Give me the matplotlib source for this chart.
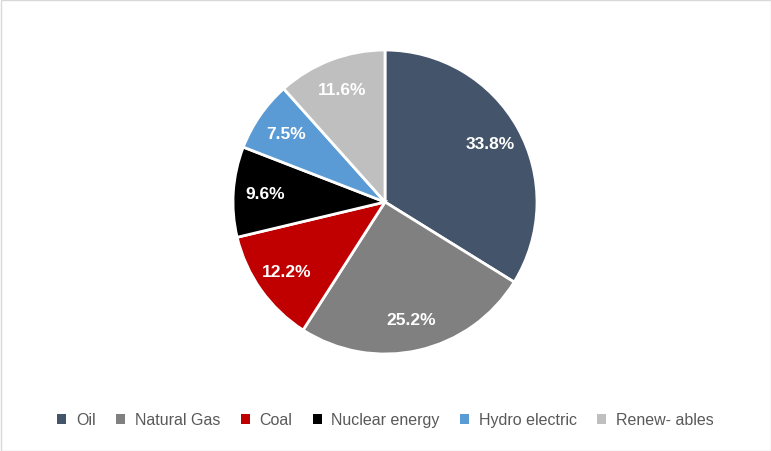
import matplotlib
matplotlib.use("Agg")
import matplotlib.pyplot as plt
from matplotlib.patches import Rectangle

categories = ["Oil", "Natural Gas", "Coal", "Nuclear energy", "Hydro electric", "Renew- ables"]
values = [33.8, 25.2, 12.2, 9.6, 7.5, 11.6]
colors = ["#44546A", "#808080", "#C00000", "#000000", "#5B9BD5", "#BFBFBF"]

plt.rcParams['font.family'] = ['Liberation Sans', 'DejaVu Sans']

W, H = 771, 452
fig = plt.figure(figsize=(W/100, H/100), dpi=100)
fig.patch.set_facecolor("white")

cx, cy, r = 385, 203, 152
ax = fig.add_axes([(cx - r)/W, 1 - (cy + r)/H, 2*r/W, 2*r/H])
total = sum(values)
wedges, texts, autotexts = ax.pie(
    values, colors=colors, startangle=90, counterclock=False,
    autopct=lambda p: f"{p*total/100:.1f}%", pctdistance=0.79,
    wedgeprops=dict(edgecolor="white", linewidth=2),
    textprops=dict(color="white", fontsize=12.5, fontweight="bold"))
ax.set_xlim(-1.0, 1.0)
ax.set_ylim(-1.0, 1.0)
ax.set_aspect("equal")
ax.axis("off")

handles = [Rectangle((0, 0), 1, 1, facecolor=c, edgecolor="none") for c in colors]
leg = fig.legend(handles, categories, loc="center", ncol=6,
                 bbox_to_anchor=(0.5, 1 - 421/H), frameon=False,
                 handlelength=0.55, handleheight=0.55, handletextpad=0.6,
                 columnspacing=1.3, fontsize=11.5, labelcolor="#595959")

fig.add_artist(Rectangle((0.5/W, 0.5/H), 1 - 1/W, 1 - 1/H, transform=fig.transFigure,
                         facecolor="none", edgecolor="#D9D9D9", linewidth=1))

fig.savefig("out.png", dpi=100, facecolor="white")
